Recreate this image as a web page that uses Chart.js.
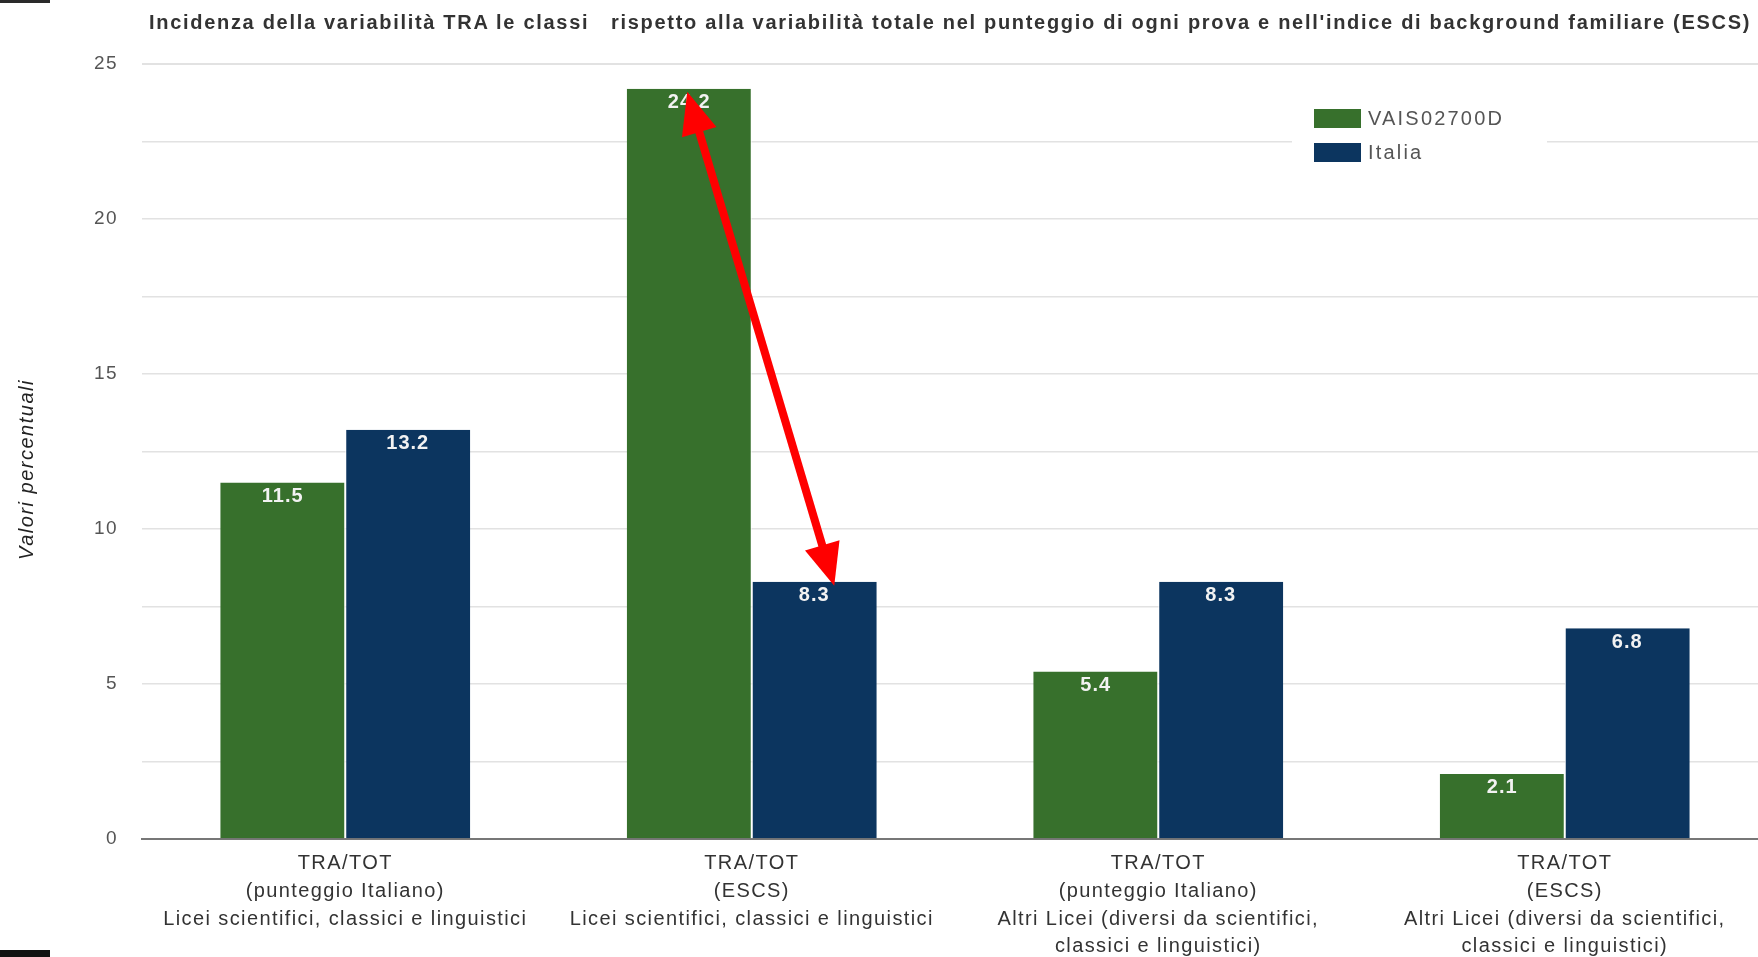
<!DOCTYPE html>
<html>
<head>
<meta charset="utf-8">
<script src="https://cdn.jsdelivr.net/npm/chart.js@4"></script>
<style>
  html, body { margin: 0; padding: 0; background: #fff; overflow: hidden; }
  #wrap { position: relative; width: 1770px; height: 962px; }
  #title {
    position: absolute; left: 149px; top: 11px; white-space: nowrap;
    font: bold 20px "Liberation Sans", Arial, sans-serif; color: #333;
    letter-spacing: 1.7px;
  }
  .mark { position: absolute; left: 0; width: 50px; background: #2a2a2a; }
</style>
</head>
<body>
<div id="wrap">
  <canvas id="myChart" width="1770" height="962"></canvas>
  <div id="title">Incidenza della variabilità TRA le classi&nbsp;&nbsp; rispetto alla variabilità totale nel punteggio di ogni prova e nell'indice di background familiare (ESCS)</div>
  <div class="mark" style="top:0;height:3px"></div>
  <div class="mark" style="top:950px;height:8px;background:#111"></div>
</div>
<script>
// categories (multi-line tick labels)
const categories = [
    ['TRA/TOT', '(punteggio Italiano)', 'Licei scientifici, classici e linguistici'],
    ['TRA/TOT', '(ESCS)', 'Licei scientifici, classici e linguistici'],
    ['TRA/TOT', '(punteggio Italiano)', 'Altri Licei (diversi da scientifici,', 'classici e linguistici)'],
    ['TRA/TOT', '(ESCS)', 'Altri Licei (diversi da scientifici,', 'classici e linguistici)']
];
const schoolValues = [11.5, 24.2, 5.4, 2.1];   // VAIS02700D
const italyValues = [13.2, 8.3, 8.3, 6.8];     // Italia
const seriesNames = ['VAIS02700D', 'Italia'];
const yTicks = [0, 5, 10, 15, 20, 25];
const yTitle = 'Valori percentuali';

const GREEN = '#37702c';
const BLUE = '#0c355f';
const FONT = '"Liberation Sans", Arial, sans-serif';

// value labels, red arrow, legend box and y title
const overlayPlugin = {
    id: 'overlay',
    beforeDraw(chart) {
        // the reference text is rather wide: spread the axis labels a bit
        chart.ctx.letterSpacing = '1.4px';
    },
    afterDatasetsDraw(chart) {
        const ctx = chart.ctx;
        ctx.save();
        ctx.letterSpacing = '1px';
        ctx.font = 'bold 20px ' + FONT;
        ctx.fillStyle = '#f2f2f2';
        ctx.textAlign = 'center';
        ctx.textBaseline = 'top';
        chart.data.datasets.forEach((ds, i) => {
            chart.getDatasetMeta(i).data.forEach((bar, j) => {
                ctx.fillText(ds.data[j].toFixed(1), bar.x, bar.y + 4);
            });
        });

        // double arrow between the two ESCS bars of the first group of licei
        const a = chart.getDatasetMeta(0).data[1];
        const b = chart.getDatasetMeta(1).data[1];
        const x1 = a.x - 2, y1 = a.y + 3;
        const x2 = b.x + 20, y2 = b.y + 4;
        const ang = Math.atan2(y2 - y1, x2 - x1);
        const headLen = 42, headW = 18;
        ctx.strokeStyle = '#ff0000';
        ctx.fillStyle = '#ff0000';
        ctx.lineWidth = 8;
        ctx.beginPath();
        ctx.moveTo(x1 + Math.cos(ang) * headLen * 0.8, y1 + Math.sin(ang) * headLen * 0.8);
        ctx.lineTo(x2 - Math.cos(ang) * headLen * 0.8, y2 - Math.sin(ang) * headLen * 0.8);
        ctx.stroke();
        const head = (tx, ty, dir) => {
            const bx = tx + Math.cos(dir) * headLen, by = ty + Math.sin(dir) * headLen;
            ctx.beginPath();
            ctx.moveTo(tx, ty);
            ctx.lineTo(bx - Math.sin(dir) * headW, by + Math.cos(dir) * headW);
            ctx.lineTo(bx + Math.sin(dir) * headW, by - Math.cos(dir) * headW);
            ctx.closePath();
            ctx.fill();
        };
        head(x1, y1, ang);
        head(x2, y2, ang + Math.PI);
        ctx.restore();
    },
    afterDraw(chart) {
        const ctx = chart.ctx;
        const area = chart.chartArea;
        ctx.save();
        // legend
        ctx.fillStyle = '#fff';
        ctx.fillRect(1292, 100, 255, 70);
        ctx.font = '20px ' + FONT;
        ctx.letterSpacing = '2.2px';
        ctx.textBaseline = 'middle';
        ctx.textAlign = 'left';
        chart.data.datasets.forEach((ds, i) => {
            const y = 109 + i * 34;
            ctx.fillStyle = ds.backgroundColor;
            ctx.fillRect(1314, y, 47, 19);
            ctx.fillStyle = '#555';
            ctx.fillText(ds.label, 1368, y + 10);
        });
        // y axis title
        ctx.translate(27, (area.top + area.bottom) / 2 + 18);
        ctx.rotate(-Math.PI / 2);
        ctx.font = 'italic 20px ' + FONT;
        ctx.letterSpacing = '1.5px';
        ctx.fillStyle = '#222';
        ctx.textAlign = 'center';
        ctx.fillText(yTitle, 0, 0);
        ctx.restore();
        ctx.letterSpacing = '0px';
    }
};

const ctx = document.getElementById('myChart').getContext('2d');
const myChart = new Chart(ctx, {
    type: 'bar',
    data: {
        labels: categories,
        datasets: [{
            label: seriesNames[0],
            data: schoolValues,
            backgroundColor: GREEN,
            borderColor: '#ffffff',
            borderWidth: { right: 1 },
            borderSkipped: false
        }, {
            label: seriesNames[1],
            data: italyValues,
            backgroundColor: BLUE,
            borderColor: '#ffffff',
            borderWidth: { left: 1 },
            borderSkipped: false
        }]
    },
    options: {
        responsive: false,
        animation: false,
        layout: { padding: { top: 64, right: 2, left: 0, bottom: 0 } },
        datasets: { bar: { barPercentage: 1, categoryPercentage: 0.615 } },
        plugins: {
            legend: { display: false },
            tooltip: { enabled: false }
        },
        scales: {
            x: {
                grid: { display: false, drawTicks: false },
                border: { color: '#777', width: 2 },
                ticks: {
                    color: '#333',
                    padding: 11,
                    maxRotation: 0,
                    autoSkip: false,
                    font: { family: FONT, size: 20, lineHeight: 1.38 }
                },
                afterFit(scale) { scale.height = 123; }
            },
            y: {
                min: 0,
                max: 25,
                border: { display: false },
                grid: {
                    drawTicks: false,
                    color: c => c.tick.value === 0 ? '#777' : '#e2e2e2',
                    lineWidth: c => c.tick.value === 25 ? 2 : 1.5
                },
                ticks: {
                    stepSize: 2.5,
                    padding: 24,
                    color: '#555',
                    font: { family: FONT, size: 19 },
                    callback: v => yTicks.includes(v) ? v : ''
                },
                afterFit(scale) { scale.width = 142; }
            }
        }
    },
    plugins: [overlayPlugin]
});
</script>
</body>
</html>
